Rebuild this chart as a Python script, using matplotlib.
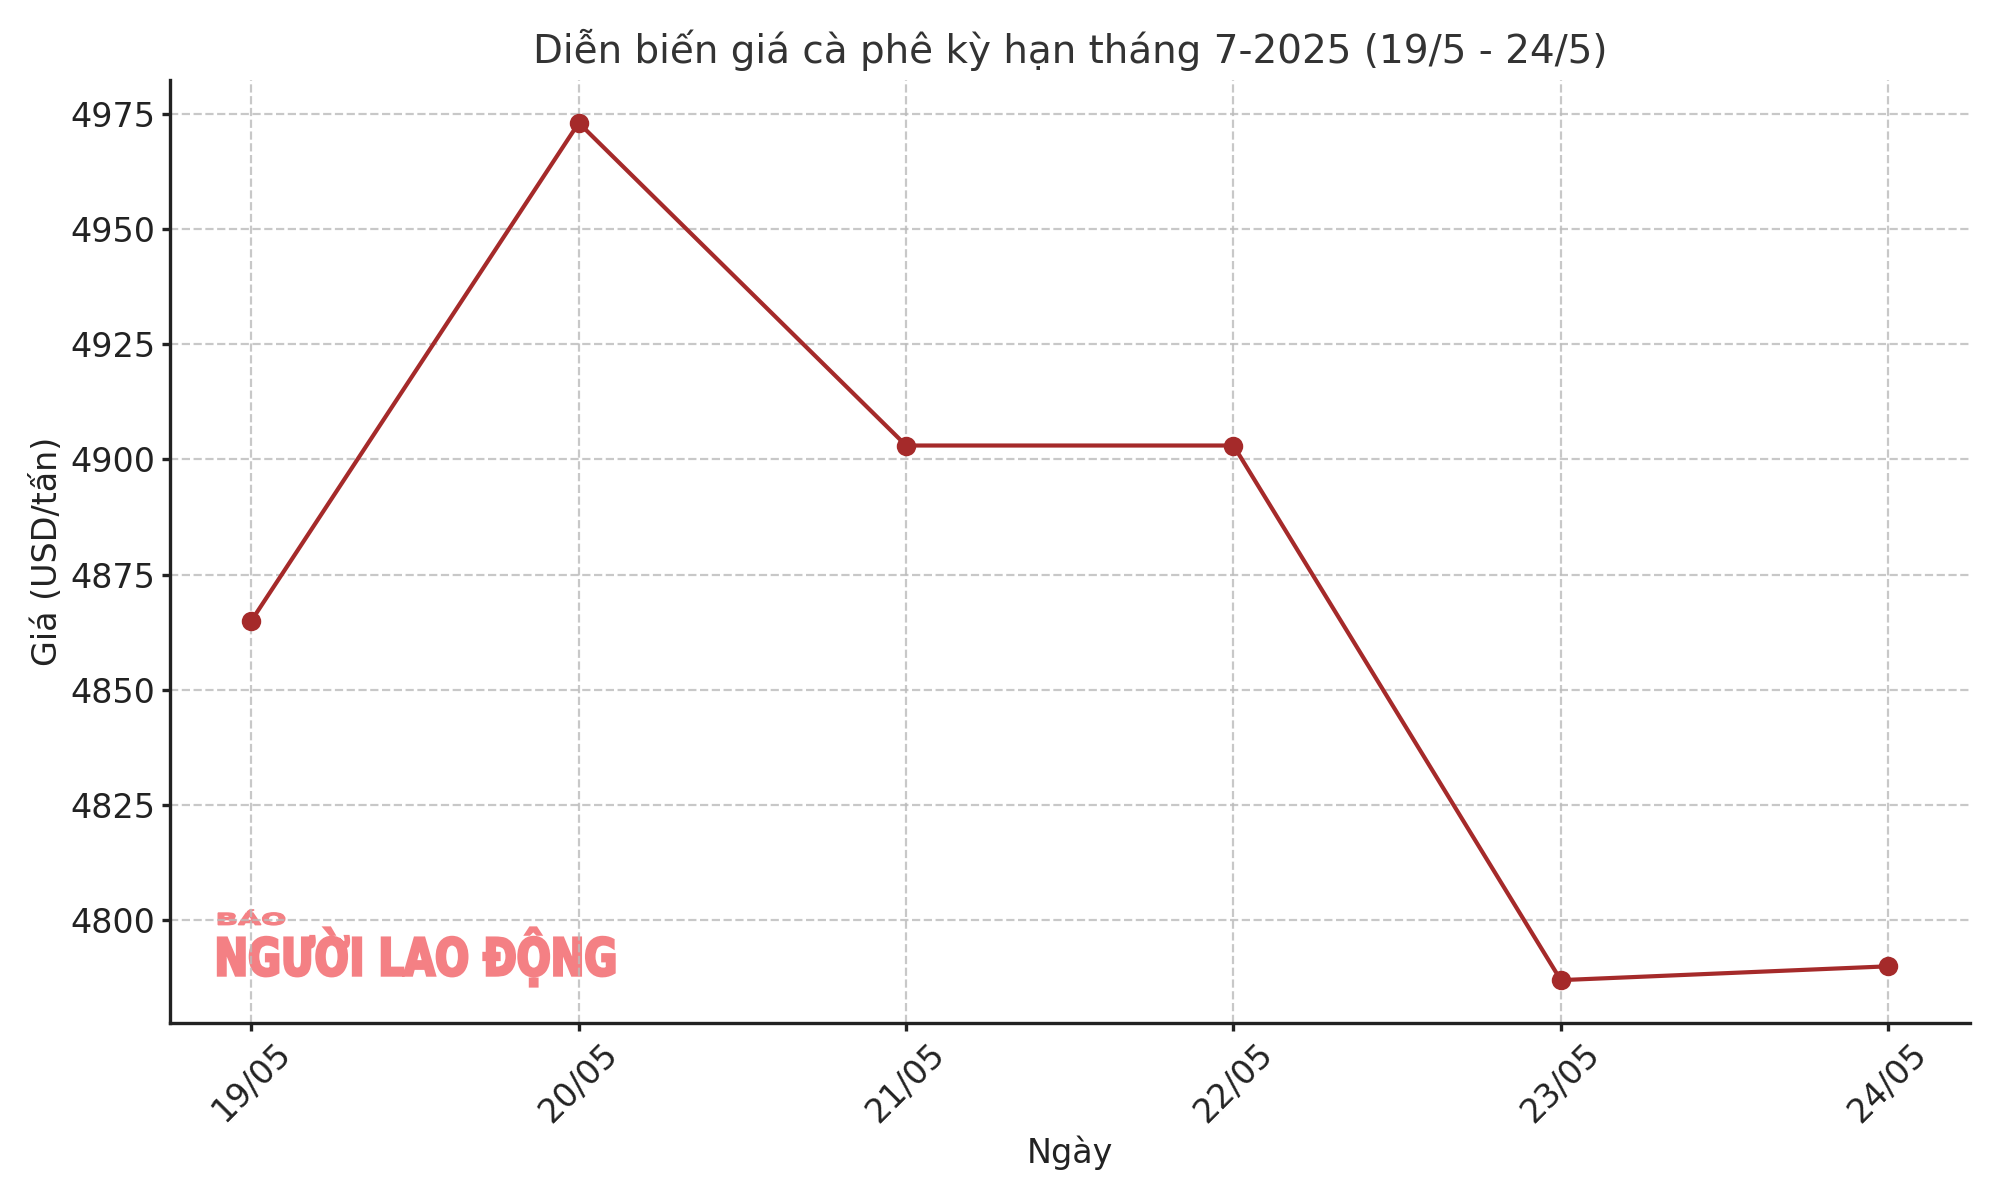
import matplotlib
matplotlib.use("Agg")
import matplotlib.pyplot as plt
from matplotlib.textpath import TextPath
from matplotlib.patches import PathPatch
from matplotlib.font_manager import FontProperties
from matplotlib.transforms import Affine2D

dates = ["19/05", "20/05", "21/05", "22/05", "23/05", "24/05"]
prices = [4865, 4973, 4903, 4903, 4787, 4790]
yticks = [4800, 4825, 4850, 4875, 4900, 4925, 4950, 4975]

plt.rcParams['font.family'] = ['DejaVu Sans']

fig, ax = plt.subplots(figsize=(10, 6), dpi=200)
fig.subplots_adjust(left=0.0848, right=0.985, top=0.9333, bottom=0.1475)

x = list(range(len(dates)))
ax.plot(x, prices, color='#A52A2A', linewidth=1.5, marker='o', markersize=6, zorder=3)

ax.set_xticks(x)
ax.set_xticklabels(dates, rotation=45, fontsize=12, color='#222222')
ax.set_yticks(yticks)
ax.tick_params(axis='y', labelsize=12, labelcolor='#222222')
ax.tick_params(width=1.2, length=3, pad=2, color='#222222')

ax.set_title("Diễn biến giá cà phê kỳ hạn tháng 7-2025 (19/5 - 24/5)", fontsize=14, color='#333333', pad=6)
ax.set_xlabel("Ngày", fontsize=12, color='#222222', labelpad=2.5)
ax.set_ylabel("Giá (USD/tấn)", fontsize=12, color='#222222', labelpad=2.5)

ax.grid(True, linestyle='--', color='#BBBBBB', linewidth=0.8, alpha=0.8, zorder=0.5)
ax.set_axisbelow(True)
for s in ['top', 'right']:
    ax.spines[s].set_visible(False)
for s in ['left', 'bottom']:
    ax.spines[s].set_linewidth(1.2)
    ax.spines[s].set_color('#222222')


def boxed_text(s, x0, y0, w, h, lw):
    fp = FontProperties(family='DejaVu Sans', weight='bold')
    tp = TextPath((0, 0), s, size=10, prop=fp)
    ext = tp.get_extents()
    tr = (Affine2D().translate(-ext.x0, -ext.y0)
          .scale(w / ext.width, h / ext.height)
          .translate(x0, y0) + ax.transAxes)
    patch = PathPatch(tp, transform=tr, facecolor='#F48084', edgecolor='#F48084',
                      linewidth=lw, zorder=0.4, clip_on=False)
    ax.add_patch(patch)


boxed_text("NGƯỜI LAO ĐỘNG", 0.027, 0.039, 0.220, 0.062, 1.0)
boxed_text("BÁO", 0.027, 0.104, 0.037, 0.016, 0.5)

fig.savefig("out.png", dpi=200)
